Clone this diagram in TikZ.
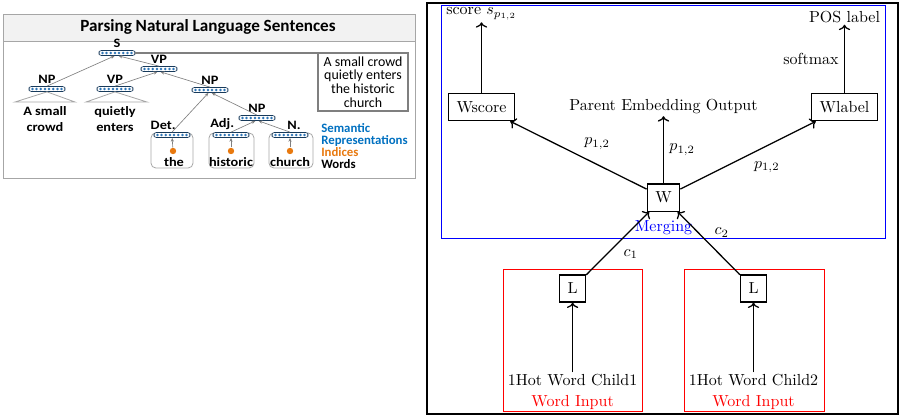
\documentclass[tikz,border=0pt]{standalone}
\usepackage{fontspec}
\newfontfamily\calfont{Carlito}
\newfontfamily\calwide[FakeStretch=1.12]{Carlito}
\usetikzlibrary{arrows.meta}

\definecolor{vecblue}{HTML}{2E75B6}
\definecolor{legblue}{HTML}{0070C0}
\definecolor{idxorange}{HTML}{E8790F}
\definecolor{framegray}{HTML}{A6A6A6}
\definecolor{linegray}{HTML}{7F7F7F}
\definecolor{titlegray}{HTML}{F2F2F2}

\tikzset{
  vec/.style={draw=vecblue!50!black, rounded corners=1.6pt, minimum width=22.5pt,
    minimum height=3.2pt, inner sep=0pt, fill=white,
    path picture={\foreach \k in {-3.5,-2.5,...,3.5}
      \fill[vecblue] ([xshift=\k*2.6pt]path picture bounding box.center) circle (0.85pt);}},
  tag/.style={font=\calwide\bfseries\fontsize{8}{9}\selectfont, inner sep=1.2pt, anchor=south},
  word/.style={font=\calwide\bfseries\fontsize{8}{10}\selectfont, align=center, inner sep=0pt},
  tarrow/.style={draw=linegray, line width=0.4pt, -{Stealth[length=2.4pt,width=2pt]}},
  wordbox/.style={draw=framegray, rounded corners=3pt, line width=0.5pt},
  idx/.style={circle, fill=idxorange, inner sep=0pt, minimum size=4pt},
  blk/.style={draw, thick, inner sep=5pt},
  txt/.style={inner sep=1pt},
}

\begin{document}
\begin{tikzpicture}[x=0.625pt, y=-0.625pt]
        \useasboundingbox (0,0) rectangle (900,420);

        % Left panel: parse tree
        \fill[titlegray] (3,14) rectangle (415,41);
        \draw[framegray] (3,14) rectangle (415,178);
        \draw[framegray] (3,41) -- (415,41);
        \node[font=\calfont\bfseries\fontsize{10.7}{12}\selectfont] (title) at (208,27) {Parsing Natural Language Sentences};

        \draw[wordbox] (151,133) rectangle (193,168);
        \draw[wordbox] (209,133) rectangle (254,168);
        \draw[wordbox] (269,133) rectangle (313,168);

        \node[vec] (s) at (117,53) {};
        \node[vec] (vpa) at (159,69) {};
        \node[vec] (npa) at (47,89) {};
        \node[vec] (vpb) at (115,89) {};
        \node[vec] (npb) at (210,90) {};
        \node[vec] (npc) at (257,118) {};
        \node[vec] (det) at (172,135) {};
        \node[vec] (adj) at (231,135) {};
        \node[vec] (noun) at (290,135) {};

        \node[tag] at (s.north) {S};
        \node[tag] at (vpa.north) {VP};
        \node[tag] at (npa.north) {NP};
        \node[tag] at (vpb.north) {VP};
        \node[tag] at (npb.north) {NP};
        \node[tag] at (npc.north) {NP};
        \node[tag] at ([xshift=-5.5pt]det.north) {Det.};
        \node[tag] at ([xshift=-5.5pt]adj.north) {Adj.};
        \node[tag] at ([xshift=2.5pt]noun.north) {N.};

        \draw[framegray, line width=0.5pt] (npa.south) -- (15,102) -- (75,102) -- cycle;
        \draw[framegray, line width=0.5pt] (vpb.south) -- (86,102) -- (147,102) -- cycle;
        \node[word] (wa) at (45,119) {A small\\crowd};
        \node[word] (wb) at (115,119) {quietly\\enters};

        \node[idx] (ithe) at (173,151) {};
        \node[idx] (ihist) at (231,151) {};
        \node[idx] (ichurch) at (290,151) {};
        \node[word] (wthe) at (174,162) {the};
        \node[word] (whist) at (231,162) {historic};
        \node[word] (wchurch) at (290,162) {church};

        \draw[tarrow] (npa.north) -- ([xshift=-1.5pt]s.south);
        \draw[tarrow] (vpa.north) -- ([xshift=1pt]s.south);
        \draw[tarrow] (vpb.north) -- ([xshift=-1pt]vpa.south);
        \draw[tarrow] (npb.north) -- ([xshift=1pt]vpa.south);
        \draw[tarrow] (det.north) -- ([xshift=-1pt]npb.south);
        \draw[tarrow] (npc.north) -- ([xshift=1pt]npb.south);
        \draw[tarrow] (adj.north) -- ([xshift=-1pt]npc.south);
        \draw[tarrow] (noun.north) -- ([xshift=1pt]npc.south);
        \draw[tarrow] (ithe) -- (det);
        \draw[tarrow] (ihist) -- (adj);
        \draw[tarrow] (ichurch) -- (noun);

        \node[draw=linegray, line width=1.2pt, font=\calfont\fontsize{8.7}{8.6}\selectfont, align=center,
          minimum width=56pt, minimum height=36pt, inner sep=1pt] (sent) at (363,82)
          {A small crowd\\quietly enters\\the historic\\church};
        \draw[linegray, line width=1.2pt] (s.east) -- (s.east -| sent.west);

        \node[anchor=west, align=left, inner sep=0pt, font=\calfont\bfseries\fontsize{8}{7.4}\selectfont] (legend) at (321,146)
          {\textcolor{legblue}{Semantic}\\\textcolor{legblue}{Representations}\\\textcolor{idxorange}{Indices}\\Words};

        % Right panel: merging network
        \draw[line width=1.8pt] (427,3) rectangle (898,414);
        \draw[blue] (441,5) rectangle (885,238);
        \draw[red] (503,269) rectangle (642,411);
        \draw[red] (684,269) rectangle (824,411);

        \node[blk] (w) at (663.5,197.5) {W};
        \node[blk] (wscore) at (481.5,107) {Wscore};
        \node[blk] (wlabel) at (844.5,107) {Wlabel};
        \node[blk] (la) at (572.6,288.5) {L};
        \node[blk] (lb) at (753.5,288.5) {L};

        \node[txt] (score) at (481.5,14) {score $s_{p_{1,2}}$};
        \node[txt] (pos) at (844.5,17) {POS label};
        \node[txt] (parent) at (663.5,107) {Parent Embedding Output};
        \node[txt] (hota) at (572.6,380) {1Hot Word Child1};
        \node[txt] (hotb) at (753.5,380) {1Hot Word Child2};
        \node[txt, blue] (merging) at (663.5,228) {Merging};
        \node[txt, red] (inpa) at (572.6,402) {Word Input};
        \node[txt, red] (inpb) at (753.5,402) {Word Input};

        \draw[->, thick] (la) -- node[below right] {$c_1$} (w);
        \draw[->, thick] (lb) -- node[above right] {$c_2$} (w);
        \draw[->, thick] (w) -- node[above right] {$p_{1,2}$} (wscore);
        \draw[->, thick] (w) -- node[right] {$p_{1,2}$} (parent);
        \draw[->, thick] (w) -- node[below right] {$p_{1,2}$} (wlabel);
        \draw[->, thick] (wscore) -- (score);
        \draw[->, thick] (wlabel) -- node[left] {softmax} (pos);
        \draw[->, thick] (hota) -- (la);
        \draw[->, thick] (hotb) -- (lb);
    \end{tikzpicture}
\end{document}
